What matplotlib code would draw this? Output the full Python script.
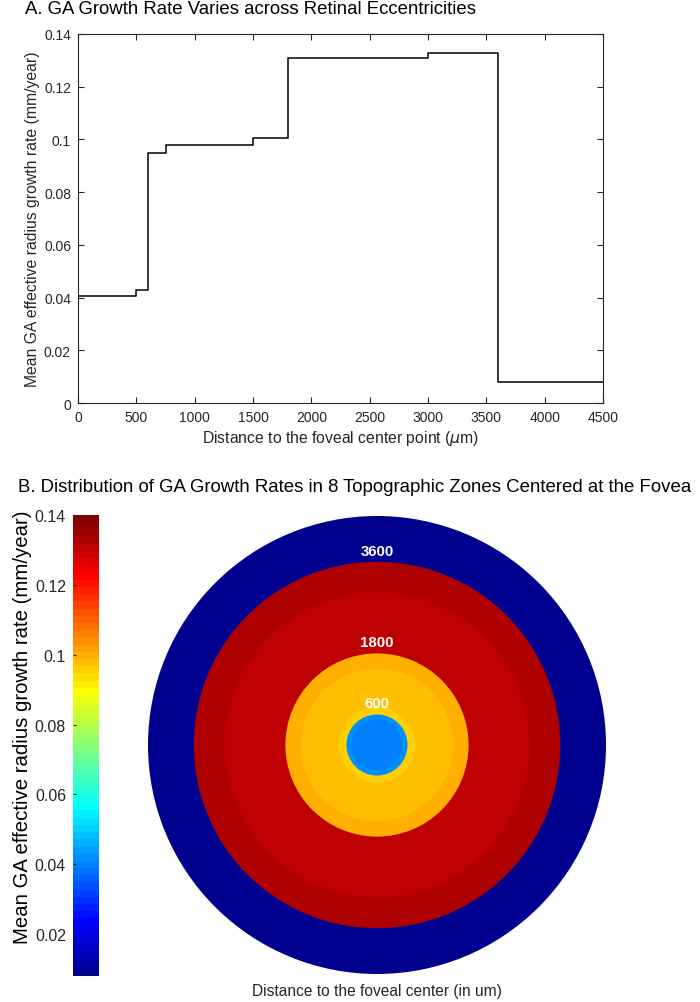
import matplotlib
matplotlib.use("Agg")
import matplotlib.pyplot as plt
import numpy as np
from matplotlib.patches import Circle
from matplotlib.colors import Normalize, ListedColormap

plt.rcParams["font.family"] = ["Liberation Sans", "DejaVu Sans"]

# zone edges (um) and mean growth rates (mm/year)
zone_edges = [0, 500, 600, 750, 1500, 1800, 3000, 3600, 4500]
zone_rates = [0.0405, 0.0430, 0.0948, 0.0980, 0.1005, 0.1309, 0.1327, 0.0080]
ring_labels = [600, 1800, 3600]
yticks_a = [0, 0.02, 0.04, 0.06, 0.08, 0.1, 0.12, 0.14]
cbar_ticks = [0.02, 0.04, 0.06, 0.08, 0.1, 0.12, 0.14]


def matlab_jet(m=64):
    # same construction as MATLAB's jet(m)
    n = int(np.ceil(m / 4))
    u = np.concatenate([np.arange(1, n + 1) / n, np.ones(n - 1), np.arange(n, 0, -1) / n])
    g = int(np.ceil(n / 2)) - (1 if m % 4 == 1 else 0) + np.arange(1, len(u) + 1)
    r = g + n
    b = g - n
    J = np.zeros((m, 3))
    J[r[r <= m] - 1, 0] = u[r <= m]
    J[g[g <= m] - 1, 1] = u[g <= m]
    J[b[b >= 1] - 1, 2] = u[len(u) - np.sum(b >= 1):]
    return ListedColormap(J)


fig = plt.figure(figsize=(7, 10.03), dpi=100)
axcol = "#262626"
H = 1003.0

# --- A. step plot
ax = fig.add_axes([78 / 700, 1 - 404 / H, 525 / 700, 369 / H])
x = np.array(zone_edges)
y = np.append(zone_rates, zone_rates[-1])
ax.step(x, y, where="post", color="black", lw=1.1)
ax.set_xlim(0, 4500)
ax.set_ylim(0, 0.14)
ax.set_xticks(range(0, 4501, 500))
ax.set_yticks(yticks_a)
ax.set_yticklabels(["0", "0.02", "0.04", "0.06", "0.08", "0.1", "0.12", "0.14"])
ax.tick_params(direction="in", top=True, right=True, labelsize=10, colors=axcol,
               length=4, pad=5)
for s in ax.spines.values():
    s.set_color(axcol)
    s.set_linewidth(0.8)
fig.text(341 / 700, 1 - 439 / H, "Distance to the foveal center point ($\\mu$m)",
         fontsize=11.3, color=axcol, ha="center", va="center")
fig.text(33 / 700, 1 - 219.5 / H, "Mean GA effective radius growth rate (mm/year)",
         fontsize=11.3, color=axcol, ha="center", va="center", rotation=90)
fig.text(25 / 700, 1 - 14 / H, "A. GA Growth Rate Varies across Retinal Eccentricities",
         fontsize=13.4, va="baseline", ha="left")

# --- B. concentric zones
cmap = matlab_jet(64)
norm = Normalize(vmin=0.008, vmax=0.14)
axc = fig.add_axes([148 / 700, 1 - 975 / H, 458 / 700, 458 / H])
axc.set_xlim(-4500, 4500)
axc.set_ylim(-4500, 4500)
axc.axis("off")
for r, v in sorted(zip(zone_edges[1:], zone_rates), reverse=True):
    axc.add_patch(Circle((0, 0), r, facecolor=cmap(norm(v)), edgecolor="none"))
for r in ring_labels:
    axc.text(0, r + 220, str(r), color="white", fontsize=10.8, fontweight="bold",
             ha="center", va="center")

fig.text(18 / 700, 1 - 487 / H,
         "B. Distribution of GA Growth Rates in 8 Topographic Zones Centered at the Fovea",
         fontsize=13.4, va="center", ha="left")
fig.text(377 / 700, 1 - 992 / H, "Distance to the foveal center (in um)", fontsize=11.2,
         ha="center", va="center", color=axcol)

cax = fig.add_axes([73 / 700, 1 - 977 / H, 26 / 700, 461 / H])
sm = plt.cm.ScalarMappable(norm=norm, cmap=cmap)
cb = fig.colorbar(sm, cax=cax, ticks=cbar_ticks)
cb.ax.yaxis.set_ticks_position("left")
cb.ax.set_yticklabels(["0.02", "0.04", "0.06", "0.08", "0.1", "0.12", "0.14"])
cb.ax.tick_params(labelsize=11.5, colors=axcol, direction="in", length=2, pad=5)
cb.outline.set_visible(False)
fig.text(23 / 700, 1 - 727 / H, "Mean GA effective radius growth rate (mm/year)",
         fontsize=14.7, rotation=90, ha="center", va="center")

fig.savefig("out.png", dpi=100)
